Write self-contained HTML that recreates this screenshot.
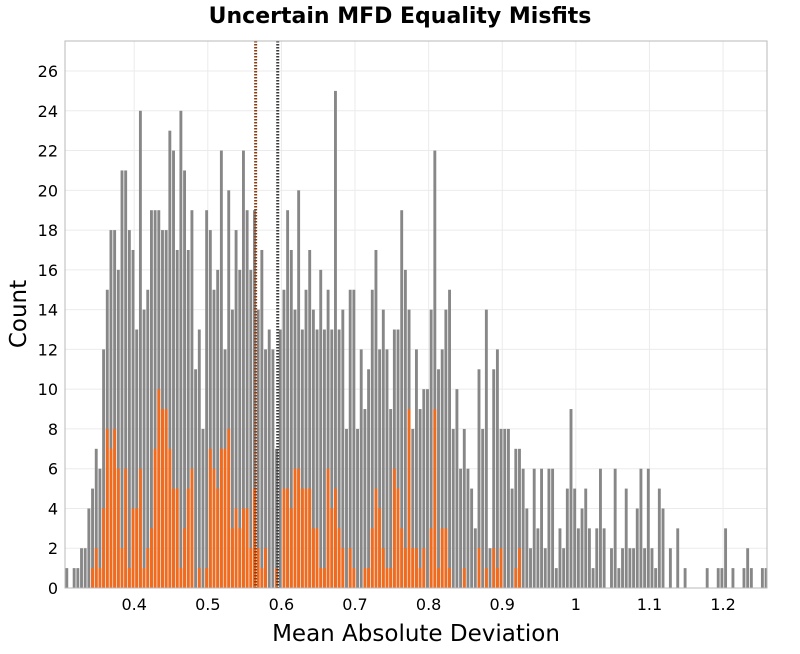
<!DOCTYPE html>
<html><head><meta charset="utf-8">
<style>
html,body{margin:0;padding:0;background:#fff;}
body{width:800px;height:650px;overflow:hidden;font-family:"DejaVu Sans","Liberation Sans",sans-serif;}
svg text{font-family:"DejaVu Sans","Liberation Sans",sans-serif;}
</style></head>
<body>
<svg id="chart" width="800" height="650" viewBox="0 0 800 650" xmlns="http://www.w3.org/2000/svg">
  <text x="400" y="23" text-anchor="middle" font-size="22" font-weight="bold" fill="#000">Uncertain MFD Equality Misfits</text>
  <rect x="65" y="41" width="702" height="547" fill="#fff"/>
  <g id="grid"></g>
  <g id="bars-all"></g>
  <g id="bars-sub"></g>
  <g id="vlines"></g>
  <rect x="65" y="41" width="702" height="547" fill="none" stroke="#b8b8b8" stroke-width="1"/>
  <g id="yticks"></g>
  <g id="xticks"></g>
  <text x="416" y="641" text-anchor="middle" font-size="23" fill="#000">Mean Absolute Deviation</text>
  <text transform="translate(26,314) rotate(-90)" text-anchor="middle" font-size="23" fill="#000">Count</text>
</svg>
<script>
const binStart = 0.306;
const binWidth = 0.005;
const grayCounts = [1,0,1,1,2,2,4,5,7,6,12,15,18,18,16,21,21,18,17,13,
24,14,15,19,19,19,18,18,23,22,17,24,21,17,19,11,13,8,19,18,
15,16,22,12,20,14,18,16,22,19,16,19,14,17,12,13,12,7,13,15,
19,17,14,20,13,15,17,14,13,16,13,15,13,25,13,14,8,15,15,8,
12,9,11,15,17,12,14,12,9,13,13,19,16,14,8,12,9,10,10,14,
22,11,12,14,15,8,10,6,8,6,5,3,11,8,14,2,11,12,8,8,
8,5,7,7,6,4,2,6,3,6,2,6,6,1,3,2,5,9,5,3,
4,5,3,1,3,6,3,0,2,6,1,2,5,2,2,4,6,2,6,2,
1,5,4,0,2,0,3,0,1,0,0,0,0,0,1,0,0,1,1,3,
0,1,0,0,1,2,1,0,0,1,1];
const orangeCounts = [0,0,0,0,0,0,0,1,2,1,4,8,7,8,6,2,6,1,4,4,
6,1,2,3,7,10,9,9,7,5,5,1,3,5,6,0,1,0,1,7,
6,5,7,7,8,3,4,3,4,4,2,5,2,1,2,0,0,1,0,5,
5,4,6,6,5,5,5,3,3,1,1,6,4,5,3,2,0,2,1,0,
0,1,1,3,5,4,2,1,1,6,5,3,2,9,2,2,1,2,0,3,
9,1,3,3,1,0,0,0,1,0,0,0,2,0,1,0,2,1,2,0,
0,0,1,2];
const yTicks = [0,2,4,6,8,10,12,14,16,18,20,22,24,26];
const xTicks = [0.4,0.5,0.6,0.7,0.8,0.9,1.0,1.1,1.2];
const xTickLabels = ["0.4","0.5","0.6","0.7","0.8","0.9","1","1.1","1.2"];
const meanLines = [0.565, 0.595];

const NS = "http://www.w3.org/2000/svg";
const L = 65, R = 767, T = 41, B = 588;
const xMin = 0.306, xMax = 1.2597, yMax = 27.51;
function xs(v){ return L + (v - xMin) / (xMax - xMin) * (R - L); }
function ys(v){ return B - v / yMax * (B - T); }
function mk(tag, attrs, parent){ const e = document.createElementNS(NS, tag); for (const k in attrs) e.setAttribute(k, attrs[k]); parent.appendChild(e); return e; }

const grid = document.getElementById('grid');
yTicks.forEach(t => {
  const ln = mk('line', {x1:L, x2:R, y1:ys(t), y2:ys(t), stroke:'#ebebeb', 'stroke-width':1}, grid);
  
  
});
xTicks.forEach(t => {
  const ln = mk('line', {x1:xs(t), x2:xs(t), y1:T, y2:B, stroke:'#ebebeb', 'stroke-width':1}, grid);
  
  
});

function drawBars(arr, gid, color, name){
  const g = document.getElementById(gid);
  arr.forEach((c, i) => {
    if (c <= 0) return;
    const x0 = xs(binStart + i * binWidth), x1 = xs(binStart + (i + 1) * binWidth);
    const r = mk('rect', {x:x0 + 0.35, y:ys(c), width:Math.max(0.5, x1 - x0 - 0.8), height:ys(0) - ys(c), fill:color}, g);
    
    
  });
}
drawBars(grayCounts, 'bars-all', '#878787', 'gray-bar');
drawBars(orangeCounts, 'bars-sub', '#f26a1b', 'orange-bar');

const vl = document.getElementById('vlines');
const vColors = ['#8a3a10', '#3a3a3a'];
meanLines.forEach((v, i) => {
  const ln = mk('line', {x1:xs(v), x2:xs(v), y1:T, y2:B, stroke:vColors[i], 'stroke-width':3, 'stroke-dasharray':'1.5,1.5'}, vl);
  
  
});

const yt = document.getElementById('yticks');
yTicks.forEach(t => {
  const tx = mk('text', {x:58, y:ys(t) + 6, 'text-anchor':'end', 'font-size':16, fill:'#000'}, yt);
  tx.textContent = String(t);
  
  
});
const xt = document.getElementById('xticks');
xTicks.forEach((t, i) => {
  const tx = mk('text', {x:xs(t), y:610, 'text-anchor':'middle', 'font-size':16, fill:'#000'}, xt);
  tx.textContent = xTickLabels[i];
  
  
});
</script>
</body></html>
